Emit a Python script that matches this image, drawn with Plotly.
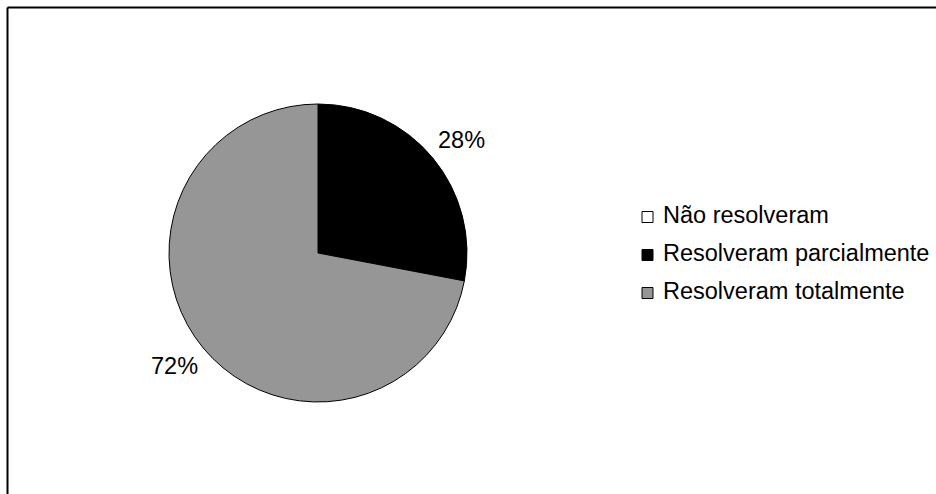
import math
import plotly.graph_objects as go

# Survey outcome shares
categories = ["Não resolveram", "Resolveram parcialmente", "Resolveram totalmente"]
values = [0, 28, 72]
colors = ["#ffffff", "#000000", "#969696"]

W, H = 936, 494
FONT = dict(family="Liberation Sans, Arial, sans-serif", size=23.5, color="#000000")

# Pie placement in pixels
cx, cy, r = 318, 253, 149


def px_x(x):
    return x / W


def px_y(y):
    return 1 - y / H


fig = go.Figure(
    go.Pie(
        labels=categories,
        values=values,
        sort=False,
        direction="clockwise",
        rotation=0,
        marker=dict(colors=colors, line=dict(color="#000000", width=1)),
        textinfo="none",
        hoverinfo="label+percent",
        showlegend=False,
        domain=dict(x=[px_x(cx - r), px_x(cx + r)], y=[px_y(cy + r), px_y(cy - r)]),
    )
)

# Percentage labels just outside each slice, anchored on the side facing the pie
total = sum(values)
annotations = []
start = 0.0
for v in values:
    frac = v / total
    if v > 0:
        mid = (start + frac / 2) * 2 * math.pi
        sx, cy_dir = math.sin(mid), math.cos(mid)
        ax = cx + (r + 4) * sx
        ay = cy - (r + 4) * cy_dir
        annotations.append(
            dict(
                x=px_x(ax), y=px_y(ay), xref="paper", yref="paper",
                text=f"{round(frac * 100)}%", showarrow=False, font=FONT,
                xanchor="left" if sx > 0 else "right",
                yanchor="bottom" if cy_dir > 0 else "top",
            )
        )
    start += frac

# Legend: outlined colour swatches with labels
leg_x, leg_y0, leg_step, sw = 642, 215, 38, 11
shapes = []
for i, (name, col) in enumerate(zip(categories, colors)):
    yc = leg_y0 + i * leg_step
    shapes.append(
        dict(type="rect", xref="paper", yref="paper",
             x0=px_x(leg_x), x1=px_x(leg_x + sw),
             y0=px_y(yc + 2 + sw / 2), y1=px_y(yc + 2 - sw / 2),
             fillcolor=col, line=dict(color="#000000", width=1))
    )
    annotations.append(
        dict(x=px_x(leg_x + sw + 8), y=px_y(yc), xref="paper", yref="paper",
             text=name, showarrow=False, font=FONT,
             xanchor="left", yanchor="middle")
    )

# Frame lines along the top and left edges
shapes += [
    dict(type="line", xref="paper", yref="paper", x0=px_x(7.5), x1=1.0, y0=px_y(7.5), y1=px_y(7.5),
         line=dict(color="#000000", width=2)),
    dict(type="line", xref="paper", yref="paper", x0=px_x(7.5), x1=px_x(7.5), y0=0.0, y1=px_y(7.5),
         line=dict(color="#000000", width=2)),
]

fig.update_layout(
    width=W,
    height=H,
    margin=dict(l=0, r=0, t=0, b=0),
    paper_bgcolor="#ffffff",
    plot_bgcolor="#ffffff",
    font=FONT,
    showlegend=False,
    annotations=annotations,
    shapes=shapes,
)

fig.write_html("out.html")
